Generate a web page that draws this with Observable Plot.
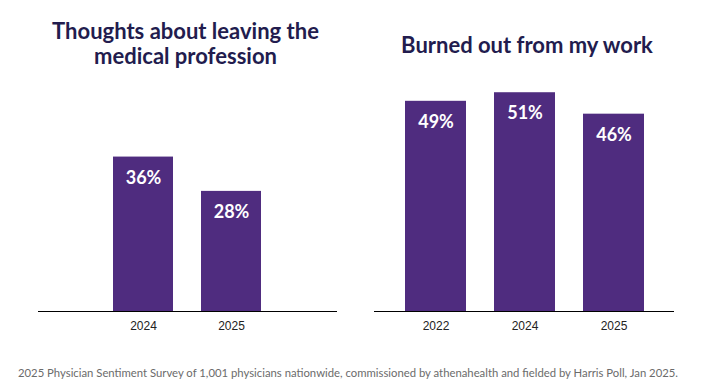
<!DOCTYPE html>
<html>
<head>
<meta charset="utf-8">
<script src="https://cdn.jsdelivr.net/npm/d3@7"></script>
<script src="https://cdn.jsdelivr.net/npm/@observablehq/plot@0.6"></script>
<style>
  html, body { margin: 0; padding: 0; background: #fff; }
  #wrap { position: relative; width: 712px; height: 381px; overflow: hidden; font-family: Lato, "Open Sans", sans-serif; }
  .title { position: absolute; text-align: center; font-weight: 700; font-size: 22px; line-height: 25px; color: #221c4e; }
  .panel { position: absolute; top: 0; }
  #caption { position: absolute; left: 18px; top: 366px; white-space: nowrap; font-size: 12px; line-height: 14px; color: #6b6b6b; transform-origin: 0 0; }
</style>
</head>
<body>
<div id="wrap">
  <div class="panel" id="p1"></div>
  <div class="panel" id="p2" style="left:356px"></div>
  <div class="title" id="t1" style="left:0;width:371px;top:18px"></div>
  <div class="title" id="t2" style="left:356px;width:342px;top:32px"></div>
  <div id="caption"></div>
</div>
<script>
const leftTitle = "Thoughts about leaving the\nmedical profession";
const leftYears = ["2024", "2025"];
const leftValues = [36, 28];

const rightTitle = "Burned out from my work";
const rightYears = ["2022", "2024", "2025"];
const rightValues = [49, 51, 46];

const caption = "2025 Physician Sentiment Survey of 1,001 physicians nationwide, commissioned by athenahealth and fielded by Harris Poll, Jan 2025.";

const barColor = "#4f2c7f";

function panel(years, values, opts) {
  const data = years.map((y, i) => ({year: y, value: values[i]}));
  return Plot.plot({
    width: 356,
    height: 340,
    marginTop: 0,
    marginBottom: 29,
    marginLeft: opts.marginLeft,
    marginRight: opts.marginRight,
    style: {fontFamily: "Lato, sans-serif", background: "transparent"},
    x: {domain: years, paddingInner: 0.315, paddingOuter: opts.paddingOuter, axis: null},
    y: {domain: [0, 72.5], axis: null},
    marks: [
      Plot.barY(data, {x: "year", y: "value", fill: barColor}),
      Plot.ruleY([0], {stroke: "#000", strokeWidth: 1.2}),
      Plot.text(data, {x: "year", y: "value", text: d => d.value + "%", dy: 21, fill: "#fff",
        fontSize: 18, fontWeight: 700, lineAnchor: "middle"}),
      Plot.axisX({tickSize: 0, tickPadding: 10, fontSize: 12, label: null,
        fontFamily: "Liberation Sans, Arial, sans-serif", color: "#222"})
    ]
  });
}

document.getElementById("p1").append(panel(leftYears, leftValues, {marginLeft: 38, marginRight: 19, paddingOuter: 0.84}));
document.getElementById("p2").append(panel(rightYears, rightValues, {marginLeft: 18, marginRight: 38, paddingOuter: 0.33}));
document.getElementById("t1").innerHTML = leftTitle.split("\n").join("<br>");
document.getElementById("t2").textContent = rightTitle;
const cap = document.getElementById("caption");
cap.textContent = caption;
const w = cap.getBoundingClientRect().width;
cap.style.transform = `scaleX(${660 / w})`;
</script>
</body>
</html>
